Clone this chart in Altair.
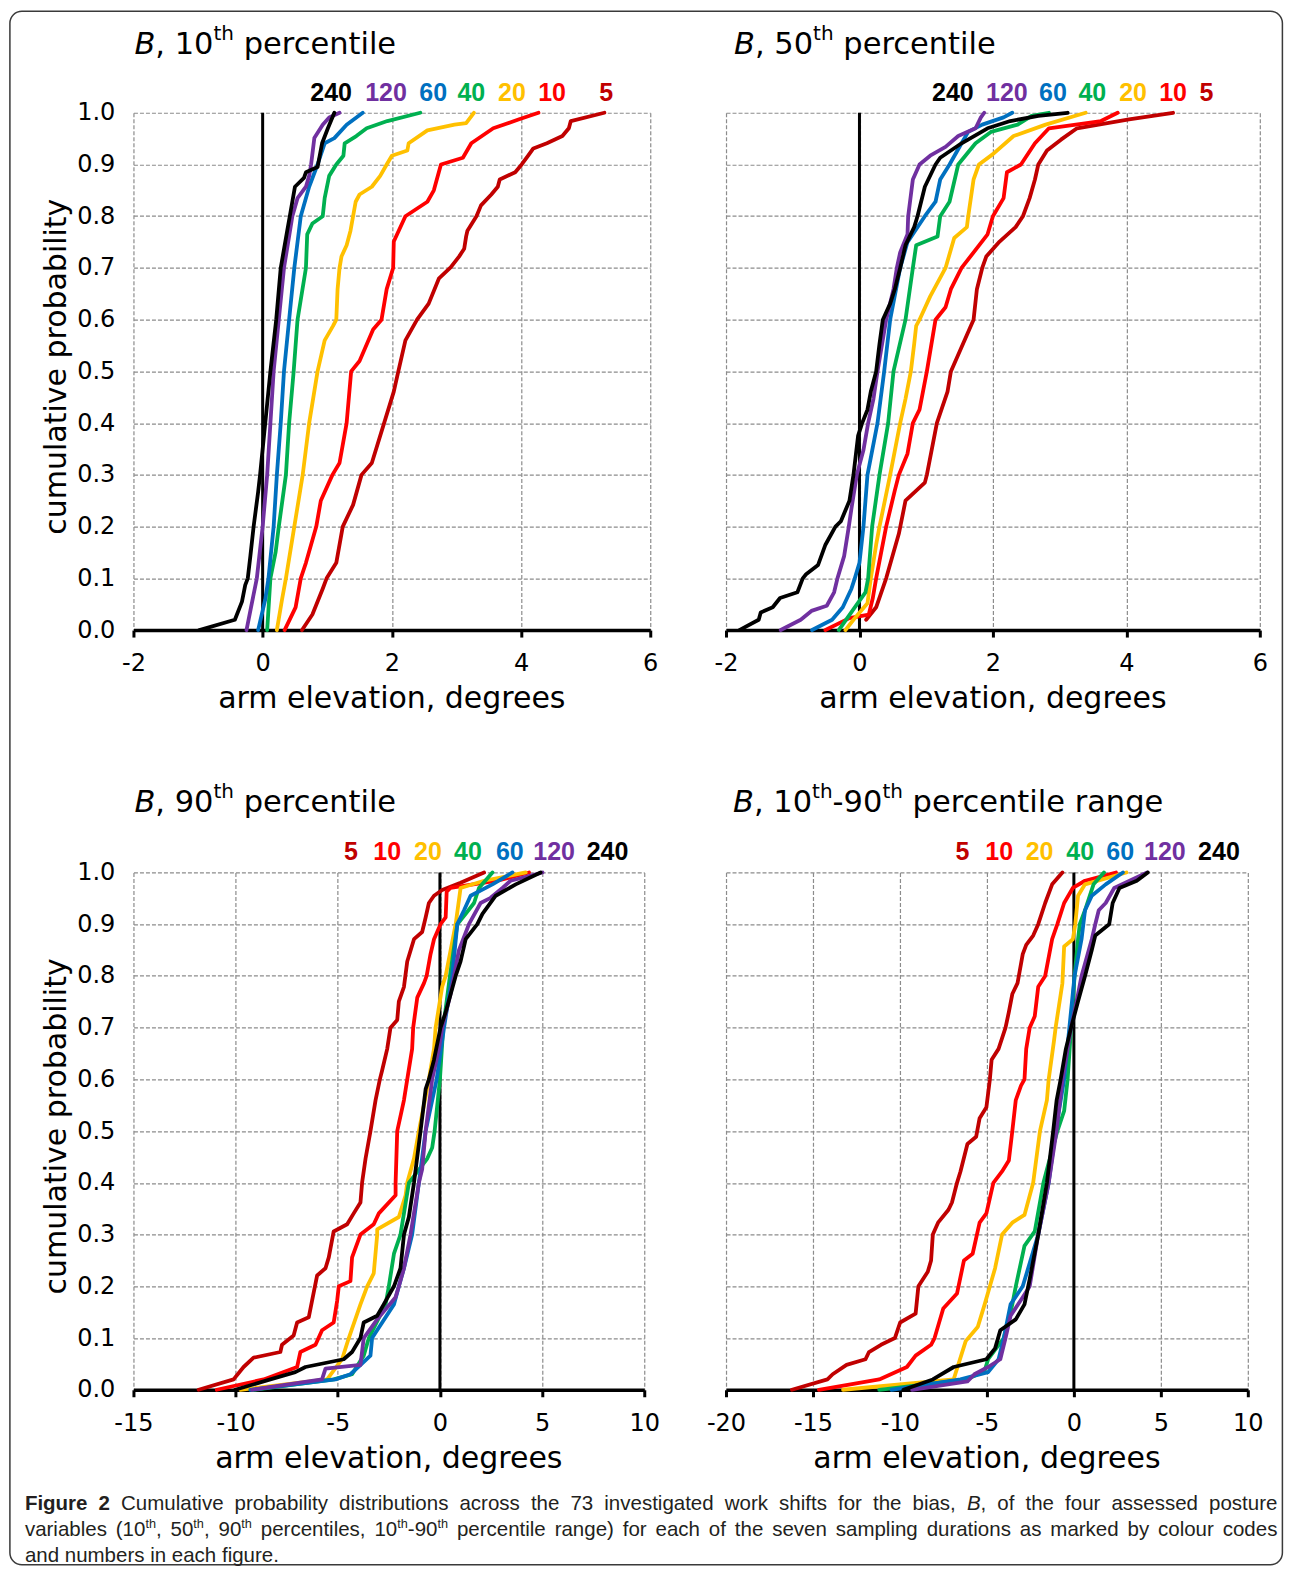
import altair as alt
import pandas as pd

SERIES = ["5", "10", "20", "40", "60", "120", "240"]
COLORS = {"5": "#C00000", "10": "#FF0000", "20": "#FFC000", "40": "#00B050",
          "60": "#0070C0", "120": "#7030A0", "240": "#000000"}

# ---------------- B, 10th percentile ----------------
P10_X = {
    "240": [-0.98, -0.43, -0.32, -0.27, -0.23, -0.19, -0.14, -0.07, -0.04, 0.04, 0.12, 0.21, 0.28, 0.38, 0.42, 0.50, 0.64, 0.67, 0.85, 0.92, 1.01, 1.11],
    "120": [-0.25, -0.18, -0.09, 0.0, 0.07, 0.12, 0.17, 0.25, 0.33, 0.46, 0.54, 0.67, 0.72, 0.75, 0.80, 0.93, 1.03, 1.19],
    "60": [-0.07, 0.04, 0.09, 0.17, 0.22, 0.28, 0.33, 0.41, 0.49, 0.59, 0.72, 0.85, 0.96, 1.11, 1.30, 1.55],
    "40": [0.07, 0.12, 0.20, 0.25, 0.36, 0.41, 0.48, 0.54, 0.67, 0.69, 0.77, 0.93, 0.96, 1.03, 1.14, 1.25, 1.27, 1.45, 1.61, 1.93, 2.44],
    "20": [0.22, 0.30, 0.36, 0.49, 0.62, 0.72, 0.85, 0.96, 1.09, 1.14, 1.16, 1.19, 1.22, 1.30, 1.36, 1.40, 1.44, 1.50, 1.69, 1.82, 1.92, 2.00, 2.24, 2.26, 2.55, 2.97, 3.15, 3.27],
    "10": [0.34, 0.51, 0.59, 0.67, 0.83, 0.90, 1.08, 1.19, 1.30, 1.37, 1.50, 1.71, 1.84, 1.92, 2.02, 2.03, 2.21, 2.55, 2.65, 2.76, 3.10, 3.23, 3.57, 3.96, 4.27],
    "5": [0.61, 0.77, 0.93, 0.99, 1.14, 1.24, 1.40, 1.53, 1.69, 1.88, 2.03, 2.10, 2.21, 2.39, 2.57, 2.73, 2.91, 3.04, 3.12, 3.15, 3.17, 3.31, 3.38, 3.54, 3.64, 3.67, 3.91, 4.01, 4.11, 4.19, 4.40, 4.64, 4.74, 4.77, 5.29],
}
P10_P = {
    "240": [0.0, 0.02, 0.055, 0.087, 0.10, 0.143, 0.20, 0.267, 0.30, 0.40, 0.50, 0.60, 0.70, 0.772, 0.80, 0.857, 0.874, 0.885, 0.895, 0.941, 0.97, 1.0],
    "120": [0.0, 0.044, 0.10, 0.20, 0.30, 0.40, 0.50, 0.60, 0.70, 0.80, 0.835, 0.857, 0.878, 0.90, 0.951, 0.977, 0.991, 1.0],
    "60": [0.0, 0.059, 0.10, 0.20, 0.30, 0.40, 0.50, 0.60, 0.70, 0.80, 0.857, 0.90, 0.941, 0.951, 0.977, 1.0],
    "40": [0.0, 0.10, 0.15, 0.20, 0.30, 0.40, 0.50, 0.60, 0.70, 0.765, 0.786, 0.80, 0.835, 0.878, 0.90, 0.917, 0.941, 0.955, 0.97, 0.984, 1.0],
    "20": [0.0, 0.059, 0.10, 0.20, 0.30, 0.40, 0.50, 0.56, 0.588, 0.60, 0.659, 0.70, 0.722, 0.744, 0.772, 0.80, 0.828, 0.842, 0.857, 0.878, 0.90, 0.917, 0.927, 0.941, 0.966, 0.977, 0.98, 1.0],
    "10": [0.0, 0.044, 0.10, 0.13, 0.20, 0.25, 0.30, 0.323, 0.40, 0.50, 0.52, 0.581, 0.60, 0.659, 0.70, 0.751, 0.80, 0.828, 0.85, 0.90, 0.913, 0.941, 0.97, 0.987, 1.0],
    "5": [0.0, 0.03, 0.08, 0.10, 0.13, 0.20, 0.242, 0.30, 0.323, 0.40, 0.461, 0.50, 0.56, 0.60, 0.631, 0.68, 0.701, 0.722, 0.737, 0.761, 0.772, 0.80, 0.821, 0.842, 0.857, 0.871, 0.885, 0.90, 0.917, 0.931, 0.941, 0.955, 0.97, 0.984, 1.0],
}

# ---------------- B, 50th percentile ----------------
P50_X = {
    "240": [-1.80, -1.51, -1.48, -1.30, -1.19, -0.93, -0.85, -0.80, -0.62, -0.51, -0.36, -0.28, -0.15, -0.09, -0.02, 0.04, 0.12, 0.17, 0.25, 0.30, 0.35, 0.46, 0.53, 0.61, 0.69, 0.82, 0.87, 0.98, 1.14, 1.21, 1.53, 1.92, 2.26, 2.68, 3.12],
    "120": [-1.18, -0.88, -0.72, -0.49, -0.38, -0.33, -0.23, -0.16, -0.12, -0.04, 0.06, 0.13, 0.21, 0.27, 0.40, 0.51, 0.56, 0.61, 0.72, 0.73, 0.80, 0.90, 1.06, 1.29, 1.48, 1.74, 1.82, 1.87],
    "60": [-0.71, -0.41, -0.25, -0.12, -0.07, 0.0, 0.06, 0.12, 0.27, 0.37, 0.46, 0.61, 0.72, 0.98, 1.14, 1.21, 1.35, 1.53, 1.63, 1.84, 2.16, 2.29],
    "40": [-0.31, -0.07, 0.09, 0.13, 0.19, 0.30, 0.43, 0.51, 0.69, 0.80, 0.85, 1.17, 1.21, 1.35, 1.48, 1.74, 1.97, 2.37, 2.58, 2.84],
    "20": [-0.21, -0.09, 0.12, 0.17, 0.25, 0.30, 0.46, 0.61, 0.69, 0.77, 0.82, 0.85, 0.90, 1.06, 1.29, 1.42, 1.61, 1.63, 1.71, 1.79, 2.0, 2.31, 2.79, 3.39],
    "10": [-0.51, -0.15, 0.14, 0.20, 0.25, 0.40, 0.53, 0.59, 0.72, 0.80, 0.90, 1.01, 1.14, 1.29, 1.37, 1.53, 1.92, 2.0, 2.16, 2.21, 2.42, 2.63, 2.84, 3.62, 3.87],
    "5": [0.10, 0.25, 0.40, 0.59, 0.69, 0.98, 1.01, 1.16, 1.32, 1.37, 1.71, 1.76, 1.84, 1.90, 2.10, 2.34, 2.45, 2.55, 2.63, 2.68, 2.81, 3.02, 3.26, 4.04, 4.70],
}
P50_P = {
    "240": [0.0, 0.02, 0.034, 0.044, 0.062, 0.073, 0.10, 0.108, 0.126, 0.165, 0.20, 0.21, 0.25, 0.30, 0.376, 0.40, 0.426, 0.461, 0.50, 0.553, 0.60, 0.631, 0.659, 0.70, 0.744, 0.779, 0.80, 0.857, 0.90, 0.913, 0.941, 0.97, 0.984, 0.994, 1.0],
    "120": [0.0, 0.02, 0.037, 0.047, 0.073, 0.10, 0.143, 0.20, 0.235, 0.30, 0.348, 0.40, 0.447, 0.50, 0.60, 0.659, 0.70, 0.73, 0.765, 0.80, 0.871, 0.90, 0.917, 0.934, 0.955, 0.97, 0.991, 1.0],
    "60": [0.0, 0.02, 0.044, 0.08, 0.10, 0.13, 0.20, 0.30, 0.40, 0.50, 0.60, 0.70, 0.75, 0.80, 0.828, 0.871, 0.90, 0.941, 0.963, 0.977, 0.991, 1.0],
    "40": [0.0, 0.044, 0.073, 0.10, 0.20, 0.30, 0.40, 0.50, 0.60, 0.70, 0.744, 0.761, 0.80, 0.828, 0.90, 0.941, 0.963, 0.977, 0.994, 1.0],
    "20": [0.0, 0.02, 0.052, 0.10, 0.165, 0.20, 0.30, 0.40, 0.447, 0.50, 0.553, 0.588, 0.60, 0.645, 0.70, 0.758, 0.779, 0.80, 0.871, 0.90, 0.92, 0.955, 0.977, 1.0],
    "10": [0.0, 0.023, 0.03, 0.062, 0.10, 0.20, 0.27, 0.30, 0.341, 0.40, 0.426, 0.50, 0.60, 0.624, 0.659, 0.70, 0.765, 0.80, 0.835, 0.885, 0.90, 0.941, 0.97, 0.984, 1.0],
    "5": [0.02, 0.044, 0.10, 0.186, 0.25, 0.285, 0.30, 0.40, 0.461, 0.50, 0.60, 0.659, 0.70, 0.722, 0.751, 0.779, 0.80, 0.835, 0.871, 0.90, 0.927, 0.948, 0.97, 0.987, 1.0],
}

# ---------------- B, 90th percentile ----------------
P90_X = {
    "5": [-11.81, -10.10, -9.61, -9.12, -7.81, -7.73, -7.16, -6.99, -6.42, -6.26, -6.01, -5.60, -5.44, -5.20, -4.54, -4.22, -3.89, -3.81, -3.64, -3.40, -3.15, -2.94, -2.83, -2.58, -2.42, -2.09, -2.01, -1.76, -1.60, -1.27, -0.87, -0.70, -0.54, -0.29, 0.11, 1.01, 2.16],
    "10": [-10.92, -8.63, -6.99, -6.83, -6.09, -5.77, -5.20, -5.03, -4.95, -4.38, -4.30, -3.89, -3.24, -2.99, -2.17, -2.17, -2.09, -1.76, -1.60, -1.36, -1.31, -1.11, -0.78, -0.65, -0.46, -0.29, 0.03, 0.28, 0.33, 0.52, 2.81, 4.36],
    "20": [-9.77, -5.52, -4.79, -4.46, -3.89, -3.56, -3.24, -3.07, -3.07, -2.01, -1.68, -1.60, -1.27, -1.03, -0.54, -0.29, -0.21, 0.11, 0.28, 0.77, 1.01, 2.16, 4.20],
    "40": [-9.12, -5.20, -4.30, -3.73, -3.48, -2.66, -2.50, -2.25, -1.93, -1.52, -0.62, -0.38, -0.26, 0.0, 0.16, 0.49, 0.85, 1.26, 1.67, 1.91, 2.57],
    "60": [-9.28, -5.11, -4.38, -3.40, -3.32, -2.25, -2.01, -1.76, -1.36, -1.03, -0.70, -0.16, 0.20, 0.60, 0.85, 1.18, 1.50, 2.57, 3.55],
    "120": [-9.20, -5.77, -5.60, -3.89, -3.73, -3.07, -2.17, -2.01, -1.76, -1.44, -1.03, -0.87, -0.70, -0.38, -0.05, 0.11, 0.52, 0.69, 0.93, 1.42, 1.99, 2.48, 3.06, 3.46, 5.02],
    "240": [-10.02, -8.30, -7.08, -6.58, -4.71, -4.30, -3.89, -3.73, -3.07, -2.75, -2.25, -1.93, -1.76, -1.52, -1.27, -0.95, -0.70, -0.54, -0.29, 0.03, 0.28, 0.77, 1.01, 1.26, 1.83, 2.08, 2.73, 3.71, 4.93],
}
P90_P = {
    "5": [0.0, 0.02, 0.044, 0.062, 0.073, 0.087, 0.105, 0.13, 0.14, 0.172, 0.221, 0.235, 0.256, 0.306, 0.32, 0.341, 0.362, 0.40, 0.447, 0.50, 0.56, 0.60, 0.617, 0.659, 0.70, 0.715, 0.751, 0.779, 0.828, 0.871, 0.885, 0.913, 0.941, 0.955, 0.966, 0.98, 1.0],
    "10": [0.0, 0.02, 0.044, 0.073, 0.087, 0.115, 0.13, 0.172, 0.20, 0.21, 0.256, 0.30, 0.32, 0.341, 0.376, 0.40, 0.50, 0.56, 0.60, 0.659, 0.70, 0.758, 0.786, 0.80, 0.842, 0.871, 0.90, 0.913, 0.963, 0.97, 0.984, 1.0],
    "20": [0.0, 0.02, 0.059, 0.10, 0.165, 0.20, 0.225, 0.30, 0.31, 0.334, 0.376, 0.40, 0.447, 0.50, 0.60, 0.659, 0.70, 0.779, 0.80, 0.90, 0.97, 0.984, 1.0],
    "40": [0.0, 0.02, 0.03, 0.066, 0.10, 0.165, 0.20, 0.263, 0.30, 0.40, 0.447, 0.468, 0.50, 0.60, 0.70, 0.80, 0.90, 0.92, 0.941, 0.97, 1.0],
    "60": [0.0, 0.02, 0.03, 0.066, 0.10, 0.165, 0.20, 0.235, 0.30, 0.40, 0.50, 0.60, 0.70, 0.80, 0.90, 0.927, 0.955, 0.977, 1.0],
    "120": [0.0, 0.02, 0.041, 0.048, 0.10, 0.136, 0.179, 0.20, 0.235, 0.30, 0.40, 0.426, 0.50, 0.60, 0.659, 0.70, 0.765, 0.80, 0.85, 0.90, 0.941, 0.951, 0.97, 0.984, 1.0],
    "240": [0.0, 0.02, 0.034, 0.044, 0.059, 0.073, 0.10, 0.13, 0.143, 0.165, 0.20, 0.235, 0.30, 0.334, 0.40, 0.50, 0.581, 0.60, 0.638, 0.70, 0.73, 0.80, 0.828, 0.871, 0.90, 0.92, 0.955, 0.977, 1.0],
}

# ---------------- B, 10th-90th percentile range ----------------
PR_X = {
    "5": [-16.21, -14.17, -13.87, -13.07, -11.98, -11.78, -11.09, -10.29, -9.99, -9.10, -8.94, -8.40, -8.21, -8.11, -7.81, -7.21, -7.01, -6.72, -6.52, -6.12, -5.62, -5.42, -5.03, -4.83, -4.73, -4.33, -3.93, -3.74, -3.54, -3.24, -2.94, -2.74, -2.34, -2.05, -1.65, -1.25, -0.66],
    "10": [-14.66, -11.19, -9.60, -9.10, -8.21, -8.01, -7.51, -6.72, -6.32, -5.82, -5.42, -5.03, -4.63, -4.13, -3.74, -3.54, -3.34, -3.04, -2.84, -2.74, -2.54, -2.25, -2.05, -1.65, -1.25, -0.95, -0.56, -0.06, 0.64, 2.42],
    "20": [-13.27, -6.91, -6.82, -6.22, -5.52, -5.13, -4.83, -4.53, -4.13, -3.54, -2.84, -2.34, -1.95, -1.55, -1.45, -1.15, -1.05, -0.66, -0.56, -0.06, 0.08, 0.24, 0.64, 3.02],
    "40": [-11.19, -6.12, -5.13, -4.93, -4.03, -3.54, -3.34, -2.84, -2.25, -1.75, -1.55, -0.95, -0.56, -0.36, -0.16, 0.04, 0.24, 0.34, 0.64, 1.13, 1.73],
    "60": [-10.49, -6.52, -4.93, -4.33, -4.03, -3.64, -2.94, -2.05, -1.45, -1.05, -0.56, -0.26, 0.04, 0.44, 0.64, 1.03, 1.83, 2.82],
    "120": [-9.30, -6.12, -5.72, -4.93, -4.23, -3.93, -3.64, -2.94, -2.54, -2.05, -1.45, -1.0, -0.66, -0.16, 0.24, 0.44, 1.03, 1.23, 1.43, 1.83, 2.32, 4.21],
    "240": [-9.80, -8.11, -6.91, -5.03, -4.53, -4.23, -3.34, -2.84, -2.54, -2.05, -1.55, -1.19, -0.99, -0.76, -0.46, -0.16, 0.24, 0.64, 1.03, 1.23, 2.03, 2.23, 2.62, 3.62, 4.25],
}
PR_P = {
    "5": [0.0, 0.02, 0.03, 0.048, 0.059, 0.073, 0.087, 0.10, 0.13, 0.147, 0.20, 0.228, 0.25, 0.30, 0.323, 0.348, 0.362, 0.40, 0.422, 0.475, 0.489, 0.525, 0.546, 0.60, 0.638, 0.659, 0.70, 0.73, 0.765, 0.786, 0.842, 0.86, 0.878, 0.90, 0.941, 0.977, 1.0],
    "10": [0.0, 0.02, 0.044, 0.066, 0.087, 0.10, 0.157, 0.186, 0.25, 0.263, 0.323, 0.341, 0.40, 0.422, 0.443, 0.50, 0.56, 0.588, 0.60, 0.659, 0.70, 0.722, 0.779, 0.80, 0.871, 0.90, 0.941, 0.97, 0.984, 1.0],
    "20": [0.0, 0.02, 0.03, 0.094, 0.122, 0.165, 0.20, 0.235, 0.30, 0.323, 0.338, 0.40, 0.50, 0.56, 0.60, 0.673, 0.70, 0.786, 0.857, 0.871, 0.90, 0.955, 0.977, 1.0],
    "40": [0.0, 0.02, 0.037, 0.059, 0.10, 0.165, 0.20, 0.278, 0.306, 0.40, 0.426, 0.50, 0.539, 0.60, 0.70, 0.80, 0.871, 0.90, 0.927, 0.977, 1.0],
    "60": [0.0, 0.02, 0.034, 0.059, 0.10, 0.165, 0.20, 0.30, 0.40, 0.50, 0.60, 0.70, 0.80, 0.871, 0.927, 0.955, 0.977, 1.0],
    "120": [0.0, 0.016, 0.03, 0.044, 0.059, 0.10, 0.143, 0.179, 0.20, 0.30, 0.40, 0.50, 0.60, 0.70, 0.765, 0.80, 0.871, 0.90, 0.927, 0.941, 0.97, 1.0],
    "240": [0.0, 0.02, 0.044, 0.059, 0.08, 0.115, 0.136, 0.165, 0.214, 0.30, 0.40, 0.50, 0.56, 0.60, 0.659, 0.70, 0.751, 0.80, 0.85, 0.878, 0.90, 0.941, 0.97, 0.984, 1.0],
}

# series-label anchors (data units of each panel's x axis)
LAB_P10 = {"240": 1.06, "120": 1.91, "60": 2.64, "40": 3.23, "20": 3.86, "10": 4.48, "5": 5.32}
LAB_P50 = {"240": 1.40, "120": 2.21, "60": 2.90, "40": 3.49, "20": 4.10, "10": 4.70, "5": 5.20}
LAB_P90 = {"5": -4.35, "10": -2.58, "20": -0.59, "40": 1.37, "60": 3.42, "120": 5.59, "240": 8.20}
LAB_PR = {"5": -6.40, "10": -4.29, "20": -1.97, "40": 0.36, "60": 2.66, "120": 5.23, "240": 8.34}

XT_TOP = [-2, 0, 2, 4, 6]
XT_P90 = [-15, -10, -5, 0, 5, 10]
XT_PR = [-20, -15, -10, -5, 0, 5, 10]
YT = [0.0, 0.1, 0.2, 0.3, 0.4, 0.5, 0.6, 0.7, 0.8, 0.9, 1.0]

FONT = "DejaVu Sans"
GRID = "#8c8c8c"
H = 517.5
LW = 3.8

# DejaVu Sans advance widths (em) for title layout
DJV = {" ": 0.318, ",": 0.318, "-": 0.361, "B": 0.686, "a": 0.613, "c": 0.550, "e": 0.615,
       "g": 0.635, "h": 0.634, "i": 0.278, "l": 0.278, "n": 0.634, "p": 0.635, "r": 0.411, "t": 0.392}
for _d in "0123456789":
    DJV[_d] = 0.636

ONE = [{"a": 1}]


def xenc(dom, ticks):
    return alt.X("x:Q", scale=alt.Scale(domain=dom, nice=False, zero=False),
                 axis=alt.Axis(values=ticks, title=None, grid=True, gridDash=[4, 2], gridColor=GRID,
                               gridWidth=1.2, domain=True, domainColor="black", domainWidth=3.5,
                               ticks=True, tickColor="black", tickWidth=3, tickSize=7,
                               labelFont=FONT, labelFontSize=24, labelColor="black",
                               labelPadding=33.5, labelBaseline="alphabetic", labelFlush=False,
                               labelOverlap=False, labelExpr="datum.value + ''"))


def yenc(show):
    return alt.Y("p:Q", scale=alt.Scale(domain=[0, 1], nice=False, zero=False),
                 axis=alt.Axis(values=YT, format=".1f", title=None, grid=True, gridDash=[4, 2],
                               gridColor=GRID, gridWidth=1.2, domain=False, ticks=False, labels=show,
                               labelFont=FONT, labelFontSize=24, labelColor="black",
                               labelPadding=18.6, labelBaseline="middle", labelOverlap=False))


def text_at(txt, x, y, size, style="normal", weight="normal", align="left", angle=0, font=FONT, color="black"):
    kw = dict(text=txt, font=font, fontSize=size, fontStyle=style, fontWeight=weight,
              align=align, baseline="alphabetic", color=color)
    if angle:
        kw["angle"] = angle
    return alt.Chart(alt.Data(values=ONE)).mark_text(**kw).encode(x=alt.value(x), y=alt.value(y))


def title_layers(segs, x0, y0):
    out = []
    x = x0
    for txt, st in segs:
        size = 20 if st == "s" else 30.5
        yy = y0 - 14 if st == "s" else y0
        lead = len(txt) - len(txt.lstrip(" "))
        xr = x + lead * DJV[" "] * size
        out.append(text_at(txt.strip(" "), xr, yy, size, style="italic" if st == "i" else "normal"))
        x += sum(DJV[c] for c in txt) * size
    return out


def panel(xs, ps, labx, dom, ticks, w, segs, tx, ty, show_y, extra=()):
    X = xenc(dom, ticks)
    Y = yenc(show_y)
    layers = []
    zero = alt.Chart(pd.DataFrame({"x": [0, 0], "p": [0, 1]})).mark_line(
        color="black", strokeWidth=3).encode(x=X, y=Y)
    layers.append(zero)
    for s in SERIES:
        df = pd.DataFrame({"x": xs[s], "p": ps[s], "i": list(range(len(xs[s])))})
        layers.append(alt.Chart(df).mark_line(color=COLORS[s], strokeWidth=LW, strokeCap="round",
                                              strokeJoin="round").encode(x=X, y=Y, order="i:Q"))
    ldf = pd.DataFrame({"x": [labx[s] for s in labx], "t": list(labx.keys()),
                        "c": [COLORS[s] for s in labx]})
    layers.append(alt.Chart(ldf).mark_text(font="Liberation Sans", fontSize=25, fontWeight="bold",
                                           align="center", baseline="alphabetic").encode(
        x=X, y=alt.value(-12), text="t:N", color=alt.Color("c:N", scale=None)))
    layers += title_layers(segs, tx, ty)
    layers.append(text_at("arm elevation, degrees", w / 2, H + 78, 30, align="center"))
    if show_y:
        layers.append(text_at("cumulative probability", -67.6, 254, 30, align="center", angle=270))
    layers += list(extra)
    return alt.layer(*layers).properties(width=w, height=H)


# ---------------- caption ----------------
AR = dict(zip("abcdefghijklmnopqrstuvwxyz",
              [556, 556, 500, 556, 556, 278, 556, 556, 222, 222, 500, 222, 833, 556, 556, 556, 556, 333, 500, 278, 556, 500, 722, 500, 500, 500]))
AR.update({" ": 278, "(": 333, ")": 333, ",": 278, "-": 333, ".": 278, "B": 667, "C": 722, "F": 611})
ARB = dict(zip("abcdefghijklmnopqrstuvwxyz",
               [556, 611, 556, 611, 556, 333, 611, 611, 278, 278, 556, 278, 889, 611, 611, 611, 611, 389, 556, 333, 611, 556, 778, 556, 556, 500]))
ARB.update({" ": 278, "F": 611})
for _d in "0123456789":
    AR[_d] = 556
    ARB[_d] = 556

CAP1 = [[("Figure", "b")], [("2", "b")], [("Cumulative", "r")], [("probability", "r")],
        [("distributions", "r")], [("across", "r")], [("the", "r")], [("73", "r")],
        [("investigated", "r")], [("work", "r")], [("shifts", "r")], [("for", "r")], [("the", "r")],
        [("bias,", "r")], [("B", "i"), (",", "r")], [("of", "r")], [("the", "r")], [("four", "r")],
        [("assessed", "r")], [("posture", "r")]]
CAP2 = [[("variables", "r")], [("(10", "r"), ("th", "s"), (",", "r")], [("50", "r"), ("th", "s"), (",", "r")],
        [("90", "r"), ("th", "s")], [("percentiles,", "r")],
        [("10", "r"), ("th", "s"), ("-90", "r"), ("th", "s")], [("percentile", "r")], [("range)", "r")],
        [("for", "r")], [("each", "r")], [("of", "r")], [("the", "r")], [("seven", "r")], [("sampling", "r")],
        [("durations", "r")], [("as", "r")], [("marked", "r")], [("by", "r")], [("colour", "r")], [("codes", "r")]]
CAP3 = [[("and", "r")], [("numbers", "r")], [("in", "r")], [("each", "r")], [("figure.", "r")]]

CAP_X = -108.6
CAP_W = 1253.0
CCOL = "#231f20"


def seg_em(t, st):
    tab = ARB if st == "b" else AR
    f = 0.62 if st == "s" else 1.0
    return sum(tab.get(c, 556) for c in t) / 1000.0 * f


nat1 = sum(seg_em(t, st) for w in CAP1 for t, st in w) + (len(CAP1) - 1) * 0.278
CS = min(20.5, CAP_W / nat1)


def cap_layers(words, y, justify):
    widths = [sum(seg_em(t, st) for t, st in w) * CS for w in words]
    n = len(words) - 1
    gap = (CAP_W - sum(widths)) / n if justify else 0.278 * CS
    x = CAP_X
    out = []
    for w, ww in zip(words, widths):
        xx = x
        for t, st in w:
            if st == "s":
                out.append(text_at(t, xx, y - CS * 0.38, CS * 0.62, font="Liberation Sans", color=CCOL))
            else:
                out.append(text_at(t, xx, y, CS, font="Liberation Sans", color=CCOL,
                                   weight="bold" if st == "b" else "normal",
                                   style="italic" if st == "i" else "normal"))
            xx += seg_em(t, st) * CS
        x += ww + gap
    return out


caption_marks = cap_layers(CAP1, 637.5, True) + cap_layers(CAP2, 663.5, True) + cap_layers(CAP3, 689.5, False)

border = alt.Chart(alt.Data(values=ONE)).mark_rect(
    fill="#ffffff", fillOpacity=0, stroke="#3a3a3a", strokeWidth=1.5, cornerRadius=12).encode(
    x=alt.value(-123.6), x2=alt.value(1149.4), y=alt.value(-101.5), y2=alt.value(1452.5))

tl = panel(P10_X, P10_P, LAB_P10, [-2, 6], XT_TOP, 517,
           [("B", "i"), (", 10", "r"), ("th", "s"), (" percentile", "r")], 1, -59, True, extra=[border])
tr = panel(P50_X, P50_P, LAB_P50, [-2, 6], XT_TOP, 534,
           [("B", "i"), (", 50", "r"), ("th", "s"), (" percentile", "r")], 8, -59, False)
bl = panel(P90_X, P90_P, LAB_P90, [-15, 10], XT_P90, 511,
           [("B", "i"), (", 90", "r"), ("th", "s"), (" percentile", "r")], 1, -60, True,
           extra=caption_marks)
br = panel(PR_X, PR_P, LAB_PR, [-20, 10], XT_PR, 522,
           [("B", "i"), (", 10", "r"), ("th", "s"), ("-90", "r"), ("th", "s"), (" percentile range", "r")],
           7, -60, False)

chart = alt.concat(tl, tr, bl, br, columns=2, spacing={"row": 242, "column": 75.8},
                   bounds="flush").properties(
    padding={"left": 0.5, "top": 1.5, "right": 0, "bottom": 0}, background="white"
).configure_view(stroke="transparent")

chart.save("out.html", embed_options={"renderer": "svg", "actions": False})
